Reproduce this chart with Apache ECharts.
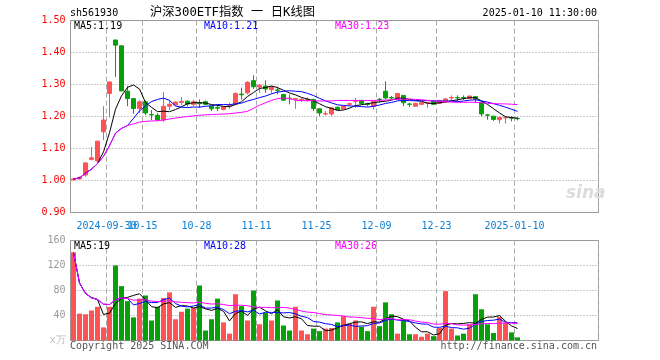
<!DOCTYPE html>
<html><head><meta charset="utf-8">
<script src="https://cdn.jsdelivr.net/npm/echarts@6/dist/echarts.min.js"></script>
<style>html,body{margin:0;padding:0;background:#fff}#c{width:660px;height:360px}</style>
</head><body><div id="c"></div>
<script>
const dates = [
'2024-09-20','2024-09-23','2024-09-24','2024-09-25','2024-09-26','2024-09-27','2024-09-30',
'2024-10-08','2024-10-09','2024-10-10','2024-10-11','2024-10-14','2024-10-15','2024-10-16','2024-10-17','2024-10-18',
'2024-10-21','2024-10-22','2024-10-23','2024-10-24','2024-10-25','2024-10-28','2024-10-29','2024-10-30','2024-10-31',
'2024-11-01','2024-11-04','2024-11-05','2024-11-06','2024-11-07','2024-11-08','2024-11-11','2024-11-12','2024-11-13',
'2024-11-14','2024-11-15','2024-11-18','2024-11-19','2024-11-20','2024-11-21','2024-11-22','2024-11-25','2024-11-26',
'2024-11-27','2024-11-28','2024-11-29','2024-12-02','2024-12-03','2024-12-04','2024-12-05','2024-12-06','2024-12-09',
'2024-12-10','2024-12-11','2024-12-12','2024-12-13','2024-12-16','2024-12-17','2024-12-18','2024-12-19','2024-12-20',
'2024-12-23','2024-12-24','2024-12-25','2024-12-26','2024-12-27','2024-12-30','2024-12-31',
'2025-01-02','2025-01-03','2025-01-06','2025-01-07','2025-01-08','2025-01-09','2025-01-10'];
const opens = [1.002,1.005,1.017,1.066,1.061,1.152,1.272,1.439,1.421,1.279,1.256,1.225,1.246,1.206,1.204,1.189,1.232,1.236,1.244,1.248,
1.238,1.242,1.246,1.232,1.228,1.222,1.233,1.238,1.270,1.274,1.312,1.292,1.295,1.284,1.283,1.269,1.257,1.254,1.252,1.252,
1.253,1.224,1.208,1.208,1.229,1.224,1.238,1.247,1.250,1.239,1.232,1.254,1.279,1.259,1.253,1.266,1.239,1.232,1.238,1.242,
1.248,1.241,1.245,1.258,1.259,1.259,1.256,1.262,1.245,1.205,1.201,1.190,1.196,1.196,1.194];
const closes = [1.005,1.010,1.055,1.071,1.123,1.189,1.308,1.423,1.280,1.256,1.225,1.246,1.211,1.205,1.189,1.232,1.238,1.245,1.247,1.239,
1.246,1.240,1.238,1.224,1.226,1.230,1.235,1.272,1.268,1.307,1.293,1.298,1.286,1.293,1.282,1.251,1.256,1.256,1.254,1.254,
1.225,1.211,1.209,1.227,1.222,1.232,1.240,1.249,1.241,1.238,1.248,1.253,1.258,1.258,1.272,1.243,1.238,1.241,1.243,1.243,
1.238,1.250,1.255,1.259,1.258,1.258,1.264,1.255,1.208,1.204,1.191,1.197,1.197,1.195,1.193];
const lows = [1.000,1.004,1.012,1.063,1.058,1.126,1.197,1.324,1.279,1.232,1.209,1.211,1.204,1.189,1.187,1.183,1.220,1.234,1.235,1.231,
1.232,1.227,1.235,1.217,1.217,1.219,1.224,1.236,1.253,1.269,1.286,1.274,1.274,1.272,1.269,1.249,1.238,1.224,1.245,1.247,
1.217,1.201,1.203,1.201,1.220,1.222,1.233,1.227,1.238,1.232,1.222,1.243,1.253,1.253,1.252,1.232,1.230,1.231,1.236,1.227,
1.236,1.239,1.243,1.248,1.248,1.252,1.255,1.243,1.200,1.190,1.186,1.178,1.178,1.185,1.188];
const highs = [1.007,1.012,1.057,1.105,1.124,1.232,1.309,1.440,1.422,1.295,1.257,1.251,1.250,1.220,1.210,1.277,1.251,1.247,1.261,1.250,
1.253,1.253,1.250,1.233,1.237,1.232,1.243,1.275,1.290,1.310,1.329,1.300,1.313,1.295,1.293,1.270,1.269,1.258,1.258,1.260,
1.256,1.226,1.217,1.228,1.231,1.234,1.243,1.258,1.253,1.243,1.249,1.258,1.310,1.264,1.273,1.267,1.243,1.243,1.245,1.245,
1.250,1.252,1.257,1.266,1.266,1.266,1.265,1.263,1.246,1.208,1.202,1.199,1.199,1.201,1.199];
const volumes = [141,43,42,48,54,21,54,120,87,63,37,67,72,32,54,68,77,34,46,51,
52,88,16,34,67,29,11,74,55,32,80,26,44,32,64,24,16,54,16,10,
19,15,19,20,29,39,27,32,22,15,54,23,61,42,11,33,10,10,6,11,
7,20,79,19,8,11,26,74,50,26,12,38,28,13,5];
const tickDates = ['2024-09-30','2024-10-15','2024-10-28','2024-11-11','2024-11-25','2024-12-09','2024-12-23','2025-01-10'];
const tickLabels = ['2024-09-30','10-15','10-28','11-11','11-25','12-09','12-23','2025-01-10'];
const priceLegend = ['MA5:1.19','MA10:1.21','MA30:1.23'];
const volLegend = ['MA5:19','MA10:28','MA30:26'];

const SLOTS = 88;
const cats = dates.concat(Array.from({length: SLOTS - dates.length}, (_, i) => '_' + i));
const tickIdx = tickDates.map(d => dates.indexOf(d));
function ma(arr, n) {
  return arr.map((_, i) => {
    const s = Math.max(0, i - n + 1); let sum = 0;
    for (let k = s; k <= i; k++) sum += arr[k];
    return +(sum / (i - s + 1)).toFixed(4);
  });
}
const RED = '#ff5353', GREEN = '#08a008';
const MONO = '"DejaVu Sans Mono", monospace';
const maColors = ['#000000', '#0000ff', '#ff00ff'];
const maN = [5, 10, 30];
const isTick = (i) => tickIdx.indexOf(i) >= 0;
// first tick label goes on a second label row (same line) so it is not dropped by overlap removal
const isMainLabel = (i) => isTick(i) && i !== tickIdx[0];
const gridL = 70.5, gridW = 528;
const labelStyle = {color: '#0a7fd6', fontFamily: MONO, fontSize: 10, padding: [0, 6, 0, 0], hideOverlap: false,
  formatter: (v, i) => tickLabels[tickIdx.indexOf(i)]};

const xAxes = [
  {type: 'category', gridIndex: 0, data: cats, boundaryGap: true, position: 'bottom',
   axisLine: {show: false}, axisTick: {show: false},
   axisLabel: Object.assign({interval: (i) => isMainLabel(i), margin: 9}, labelStyle),
   splitLine: {show: true, interval: (i) => isTick(i), lineStyle: {color: '#aaa', type: [5, 3], width: 1}}},
  {type: 'category', gridIndex: 1, data: cats, boundaryGap: true, position: 'top',
   axisLine: {show: false}, axisTick: {show: false},
   axisLabel: Object.assign({interval: (i) => i === tickIdx[0], margin: 9.5}, labelStyle),
   splitLine: {show: true, interval: (i) => isTick(i), lineStyle: {color: '#aaa', type: [5, 3], width: 1}}}
];

const series = [{
  type: 'candlestick', xAxisIndex: 0, yAxisIndex: 0, barWidth: 5,
  data: opens.map((o, i) => [o, closes[i], lows[i], highs[i]]),
  itemStyle: {color: RED, color0: GREEN, borderColor: RED, borderColor0: GREEN, borderWidth: 1}
}];
maN.forEach((n, k) => series.push({
  type: 'line', xAxisIndex: 0, yAxisIndex: 0, data: ma(closes, n), symbol: 'none',
  lineStyle: {color: maColors[k], width: 1}, z: 3
}));
series.push({
  type: 'bar', xAxisIndex: 1, yAxisIndex: 1, barWidth: 5,
  data: volumes.map((v, i) => ({value: v, itemStyle: {color: closes[i] >= opens[i] ? RED : GREEN}}))
});
maN.forEach((n, k) => series.push({
  type: 'line', xAxisIndex: 1, yAxisIndex: 1, data: ma(volumes, n), symbol: 'none',
  lineStyle: {color: maColors[k], width: 1}, z: 3
}));

const txt = (x, y, text, fill, align, font) => ({
  type: 'text', x: x, y: y, z: 100,
  style: {text: text, fill: fill, align: align || 'left', verticalAlign: 'middle', font: font || ('10px ' + MONO)}
});
const legX = [74, 204, 335];
const graphics = [
  txt(70, 13, 'sh561930', '#000'),
  txt(232.5, 12.5, '沪深300ETF指数 一 日K线图', '#000', 'center', '12.3px "DejaVu Sans Mono", "Noto Sans CJK SC"'),
  txt(597, 13, '2025-01-10 11:30:00', '#000', 'right'),
  txt(70, 346.5, 'Copyright 2025 SINA.COM', '#555'),
  txt(597, 346.5, 'http://finance.sina.com.cn', '#555', 'right'),
  {type: 'text', x: 566, y: 194, z: 1, style: {text: 'sina', fill: '#dcdcdc', verticalAlign: 'middle', font: 'italic bold 17px "DejaVu Sans"'}}
];
priceLegend.forEach((t, k) => graphics.push(txt(legX[k], 26.5, t, maColors[k])));
volLegend.forEach((t, k) => graphics.push(txt(legX[k], 246.5, t, maColors[k])));

const chart = echarts.init(document.getElementById('c'), null, {renderer: 'canvas'});
chart.setOption({
  animation: false,
  backgroundColor: '#fff',
  grid: [
    {left: gridL, top: 20.5, width: gridW, height: 192, show: true, borderColor: '#999', borderWidth: 1, backgroundColor: 'transparent'},
    {left: gridL, top: 240.5, width: gridW, height: 100, show: true, borderColor: '#999', borderWidth: 1, backgroundColor: 'transparent'}
  ],
  xAxis: xAxes,
  yAxis: [
    {type: 'value', gridIndex: 0, min: 0.9, max: 1.5, interval: 0.1, scale: true,
     axisLine: {show: false}, axisTick: {show: false},
     axisLabel: {color: '#ff0000', fontFamily: MONO, fontSize: 10, margin: 5, formatter: (v) => v.toFixed(2)},
     splitLine: {lineStyle: {color: '#999', type: [1, 2], width: 1}}},
    {type: 'value', gridIndex: 1, min: 0, max: 160, interval: 40,
     axisLine: {show: false}, axisTick: {show: false},
     axisLabel: {color: (v) => (+v === 0 ? '#bbb' : '#999'), fontFamily: MONO, fontSize: 10, margin: 5,
                 formatter: (v) => (v === 0 ? 'x万' : String(v))},
     splitLine: {lineStyle: {color: '#999', type: [1, 2], width: 1}}}
  ],
  series: series,
  graphic: graphics
});
</script></body></html>
